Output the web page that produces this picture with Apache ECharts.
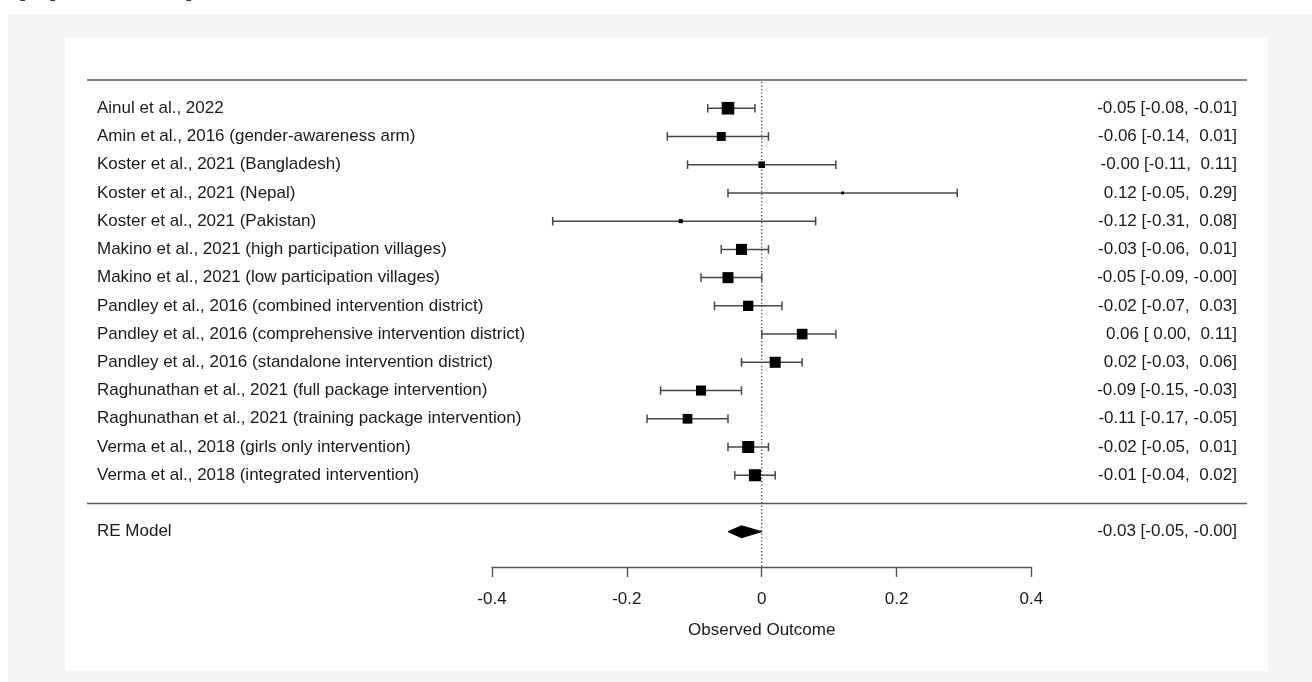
<!DOCTYPE html>
<html>
<head>
<meta charset="utf-8">
<title>Forest plot</title>
<script src="https://cdn.jsdelivr.net/npm/echarts@6/dist/echarts.min.js"></script>
<style>
  html, body { margin: 0; padding: 0; background: #ffffff; }
  #chart { width: 1312px; height: 682px; }
</style>
</head>
<body>
<div id="chart"></div>
<script>
// Study labels, top to bottom
const studies = [
  "Ainul et al., 2022",
  "Amin et al., 2016 (gender-awareness arm)",
  "Koster et al., 2021 (Bangladesh)",
  "Koster et al., 2021 (Nepal)",
  "Koster et al., 2021 (Pakistan)",
  "Makino et al., 2021 (high participation villages)",
  "Makino et al., 2021 (low participation villages)",
  "Pandley et al., 2016 (combined intervention district)",
  "Pandley et al., 2016 (comprehensive intervention district)",
  "Pandley et al., 2016 (standalone intervention district)",
  "Raghunathan et al., 2021 (full package intervention)",
  "Raghunathan et al., 2021 (training package intervention)",
  "Verma et al., 2018 (girls only intervention)",
  "Verma et al., 2018 (integrated intervention)"
];

// Effect estimates with 95% confidence limits
const estimates = [-0.05, -0.06, -0.00, 0.12, -0.12, -0.03, -0.05, -0.02, 0.06, 0.02, -0.09, -0.11, -0.02, -0.01];
const lowerCI   = [-0.08, -0.14, -0.11, -0.05, -0.31, -0.06, -0.09, -0.07, 0.00, -0.03, -0.15, -0.17, -0.05, -0.04];
const upperCI   = [-0.01, 0.01, 0.11, 0.29, 0.08, 0.01, -0.00, 0.03, 0.11, 0.06, -0.03, -0.05, 0.01, 0.02];

// Relative study weights (%), used for the square sizes
const weights = [11.6, 5.9, 3.2, 0.6, 1.2, 8.9, 8.9, 7.8, 8.3, 8.9, 7.4, 6.9, 10.6, 10.6];

// Random-effects summary
const summaryLabel = "RE Model";
const summaryEstimate = -0.03;
const summaryLower = -0.05;
const summaryUpper = -0.00;

// Outcome axis ticks
const tickValues = [-0.4, -0.2, 0, 0.2, 0.4];
const tickLabels = ["-0.4", "-0.2", "0", "0.2", "0.4"];
const axisTitle = "Observed Outcome";
const panelTitle = "(A) Forest plot";

const FONT = '17px "Liberation Sans", Arial, Helvetica, sans-serif';
const TEXT = '#1a1a1a';
const LINE = '#474747';

// Plot-region geometry (px) for the outer text columns and the tick axis
const plotLeft = 87, plotRight = 1247;
const axisLeft = 492, axisRight = 1031.4;
const tMin = tickValues[0], tMax = tickValues[tickValues.length - 1];
const pxPerUnit = (axisRight - axisLeft) / (tMax - tMin);
const xMin = tMin - (axisLeft - plotLeft) / pxPerUnit;
const xMax = tMax + (plotRight - axisRight) / pxPerUnit;

const k = studies.length;
const rowTop = k + 1;      // heading rule
const rowSep = 0;          // rule above the summary
const rowSummary = -1;
const yMin = -2.25;

function fmt(v) {
  const neg = v < 0 || Object.is(v, -0);
  return (neg ? '-' : ' ') + Math.abs(v).toFixed(2);
}
function ciText(e, lo, hi) {
  return fmt(e) + ' [' + fmt(lo) + ', ' + fmt(hi) + ']';
}

const studyData = studies.map((s, i) => [estimates[i], lowerCI[i], upperCI[i], k - i, weights[i], i]);

function renderStudy(params, api) {
  const est = api.value(0), lo = api.value(1), hi = api.value(2), row = api.value(3), w = api.value(4);
  const idx = api.value(5);
  const pEst = api.coord([est, row]);
  const pLo = api.coord([lo, row]);
  const pHi = api.coord([hi, row]);
  const left = api.coord([xMin, row]);
  const right = api.coord([xMax, row]);
  const y = pEst[1];
  const s = 3.7 * Math.sqrt(w);
  const cap = 4.3;
  return {
    type: 'group',
    children: [
      { type: 'line', shape: { x1: pLo[0], y1: y, x2: pHi[0], y2: y }, style: { stroke: LINE, lineWidth: 1.5 } },
      { type: 'line', shape: { x1: pLo[0], y1: y - cap, x2: pLo[0], y2: y + cap }, style: { stroke: LINE, lineWidth: 1.5 } },
      { type: 'line', shape: { x1: pHi[0], y1: y - cap, x2: pHi[0], y2: y + cap }, style: { stroke: LINE, lineWidth: 1.5 } },
      { type: 'rect', shape: { x: pEst[0] - s / 2, y: y - s / 2, width: s, height: s }, style: { fill: '#000' } },
      { type: 'text', style: { text: studies[idx], x: left[0] + 10, y: y, font: FONT, fill: TEXT,
          textAlign: 'left', textVerticalAlign: 'middle', align: 'left', verticalAlign: 'middle' } },
      { type: 'text', style: { text: ciText(est, lo, hi), x: right[0] - 10, y: y, font: FONT, fill: TEXT,
          textAlign: 'right', textVerticalAlign: 'middle', align: 'right', verticalAlign: 'middle' } }
    ]
  };
}

function renderSummary(params, api) {
  const est = api.value(0), lo = api.value(1), hi = api.value(2), row = api.value(3);
  const pEst = api.coord([est, row]);
  const pLo = api.coord([lo, row]);
  const pHi = api.coord([hi, row]);
  const left = api.coord([xMin, row]);
  const right = api.coord([xMax, row]);
  const y = pEst[1];
  const h = 6;
  return {
    type: 'group',
    children: [
      { type: 'polygon', shape: { points: [[pLo[0], y], [pEst[0], y - h], [pHi[0], y], [pEst[0], y + h]] },
        style: { fill: '#000', stroke: '#000', lineWidth: 1 } },
      { type: 'text', style: { text: summaryLabel, x: left[0] + 10, y: y, font: FONT, fill: TEXT,
          textAlign: 'left', textVerticalAlign: 'middle', align: 'left', verticalAlign: 'middle' } },
      { type: 'text', style: { text: ciText(est, lo, hi), x: right[0] - 10, y: y, font: FONT, fill: TEXT,
          textAlign: 'right', textVerticalAlign: 'middle', align: 'right', verticalAlign: 'middle' } }
    ]
  };
}

function renderRules(params, api) {
  const a = api.coord([xMin, rowTop]);
  const b = api.coord([xMax, rowTop]);
  const c = api.coord([xMin, rowSep]);
  const d = api.coord([xMax, rowSep]);
  const z0 = api.coord([0, rowTop]);
  const z1 = api.coord([0, yMin]);
  return {
    type: 'group',
    children: [
      { type: 'line', shape: { x1: a[0], y1: a[1], x2: b[0], y2: b[1] }, style: { stroke: '#5a5a5a', lineWidth: 1.6 } },
      { type: 'line', shape: { x1: c[0], y1: c[1], x2: d[0], y2: d[1] }, style: { stroke: '#5a5a5a', lineWidth: 1.6 } },
      { type: 'line', shape: { x1: z0[0], y1: z0[1] + 2, x2: z1[0], y2: z1[1] },
        style: { stroke: '#444', lineWidth: 1.3, lineDash: [1.3, 2.2] } }
    ]
  };
}

const chart = echarts.init(document.getElementById('chart'), null, { renderer: 'canvas' });

chart.setOption({
  backgroundColor: '#ffffff',
  animation: false,
  graphic: [
    { type: 'rect', z: -20, shape: { x: 8, y: 14, width: 1304, height: 668 }, style: { fill: '#f6f5f3' } },
    { type: 'rect', z: -19, shape: { x: 65, y: 37, width: 1203, height: 634 }, style: { fill: '#ffffff' } },
    { type: 'text', z: -18, style: { text: panelTitle, x: 14, y: -15.5,
        font: 'bold 34px "Liberation Sans", Arial, sans-serif', fill: '#22307a',
        textAlign: 'left', textVerticalAlign: 'middle', align: 'left', verticalAlign: 'middle' } }
  ],
  grid: [
    { left: plotLeft, right: 1312 - plotRight, top: 80, bottom: 115, containLabel: false },
    { left: axisLeft, width: axisRight - axisLeft, top: 566, height: 1, containLabel: false }
  ],
  xAxis: [
    { gridIndex: 0, type: 'value', min: xMin, max: xMax, show: false },
    {
      gridIndex: 1, type: 'value', min: tMin, max: tMax, interval: tickValues[1] - tickValues[0],
      position: 'bottom',
      axisLine: { show: true, lineStyle: { color: '#555', width: 1.4 } },
      axisTick: { show: true, inside: false, length: 10, lineStyle: { color: '#555', width: 1.4 } },
      splitLine: { show: false },
      axisLabel: {
        margin: 24, color: TEXT, fontSize: 17, fontFamily: '"Liberation Sans", Arial, sans-serif',
        formatter: function (v) {
          const j = tickValues.findIndex(t => Math.abs(t - v) < 1e-9);
          return j >= 0 ? tickLabels[j] : '';
        }
      },
      name: axisTitle, nameLocation: 'middle', nameGap: 55,
      nameTextStyle: { color: TEXT, fontSize: 17, fontFamily: '"Liberation Sans", Arial, sans-serif' }
    }
  ],
  yAxis: [
    { gridIndex: 0, type: 'value', min: yMin, max: rowTop, show: false },
    { gridIndex: 1, type: 'value', show: false }
  ],
  series: [
    { type: 'custom', xAxisIndex: 0, yAxisIndex: 0, renderItem: renderRules, data: [[0, rowTop]], silent: true, z: 1 },
    { type: 'custom', xAxisIndex: 0, yAxisIndex: 0, renderItem: renderStudy, data: studyData, silent: true, z: 3,
      encode: { x: [0, 1, 2], y: 3 } },
    { type: 'custom', xAxisIndex: 0, yAxisIndex: 0, renderItem: renderSummary,
      data: [[summaryEstimate, summaryLower, summaryUpper, rowSummary]], silent: true, z: 3,
      encode: { x: [0, 1, 2], y: 3 } }
  ]
});
</script>
</body>
</html>
